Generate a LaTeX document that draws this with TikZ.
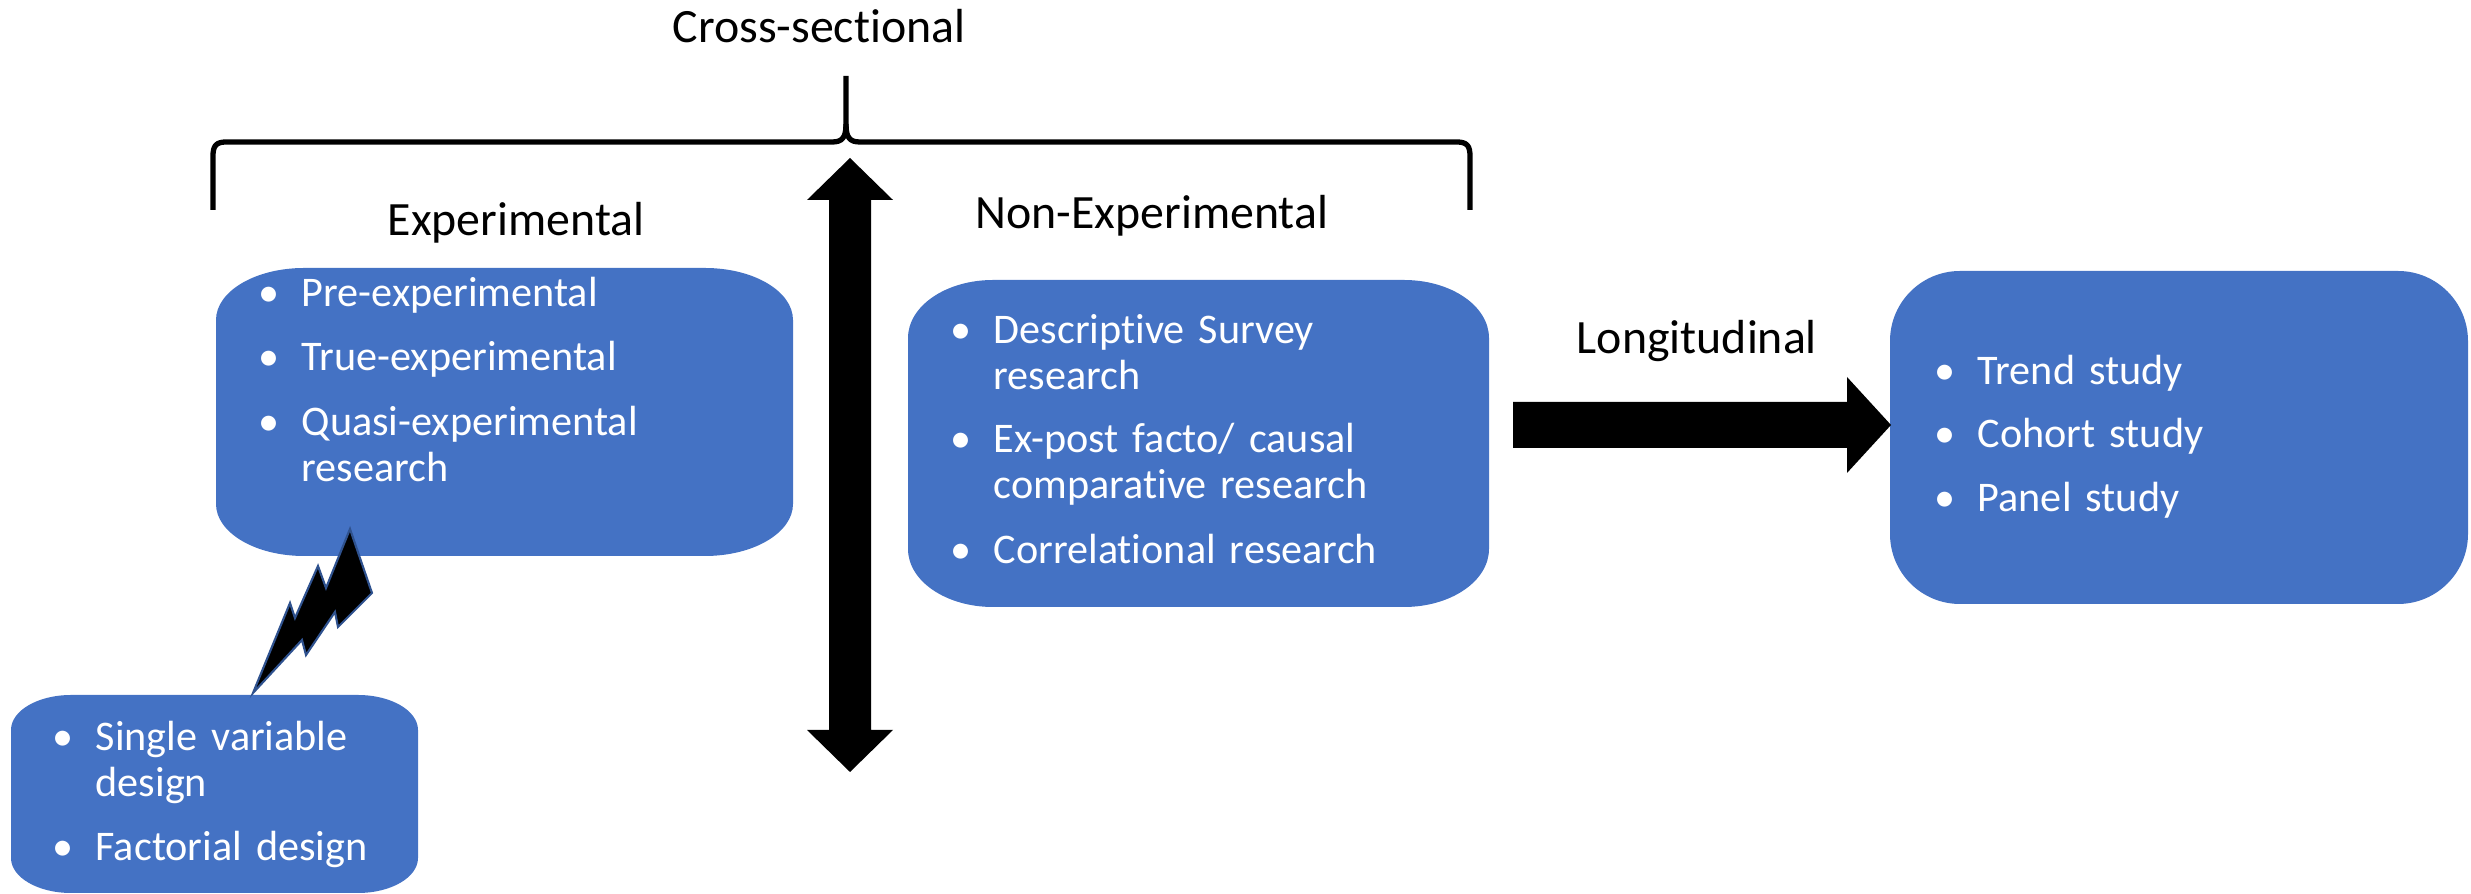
\documentclass[tikz,border=0pt]{standalone}
\usepackage{fontspec}
\setmainfont{Carlito}[Ligatures=NoCommon]
\definecolor{boxblue}{HTML}{4472C4}
\definecolor{boltedge}{HTML}{2F528F}
\tikzset{
  listtext/.style={anchor=base west, text=white, text width=6cm, align=left,
    inner sep=0pt, font=\fontsize{12}{12.8}\selectfont},
  heading/.style={anchor=base, inner sep=0pt, font=\fontsize{13.6}{16}\selectfont},
  blockarrow/.style={fill=black},
  bracepath/.style={draw=black, line width=1.5pt, line join=round},
  bolt/.style={fill=black, draw=boltedge, line width=0.6pt, line join=miter},
}
% bullet hanging to the left of the item text
\newcommand\bul{\llap{\makebox[0.66cm]{\textbullet}}}
% filled box with elliptical corners: x1,y1 (lower left), x2,y2 (upper right), rx, ry
\newcommand\softbox[6]{%
  \fill[boxblue] (#1+#5,#2) -- (#3-#5,#2)
    .. controls (#3-0.4477*#5,#2) and (#3,#2+0.4477*#6) .. (#3,#2+#6)
    -- (#3,#4-#6)
    .. controls (#3,#4-0.4477*#6) and (#3-0.4477*#5,#4) .. (#3-#5,#4)
    -- (#1+#5,#4)
    .. controls (#1+0.4477*#5,#4) and (#1,#4-0.4477*#6) .. (#1,#4-#6)
    -- (#1,#2+#6)
    .. controls (#1,#2+0.4477*#6) and (#1+0.4477*#5,#2) .. (#1+#5,#2) -- cycle;}
\begin{document}
\begin{tikzpicture}[x=0.01cm, y=0.01cm]
\useasboundingbox (0,0) rectangle (2471,894);

% boxes
\softbox{216}{338}{793}{626}{88}{52}
\softbox{908}{287}{1489}{614}{85}{58}
\softbox{1890}{290}{2468}{623}{70}{70}
\softbox{11}{1}{418}{199}{60}{35}

% lightning bolt linking the experimental box to its designs
\draw[bolt] (253,201) -- (290,291) -- (295,276) -- (318,328) -- (326,306)
  -- (350,365) -- (372,301) -- (338,267) -- (335,282) -- (306,239)
  -- (302,254) -- cycle;

% brace over both groups
\draw[bracepath] (213,684) -- (213,738) .. controls (213,748) and (216,752) .. (226,752)
  -- (832,752) .. controls (842,752) and (846,756) .. (846,770) -- (846,818);
\draw[bracepath] (846,770) .. controls (846,756) and (850,752) .. (860,752)
  -- (1457,752) .. controls (1467,752) and (1470,748) .. (1470,738) -- (1470,684);

% vertical double arrow
\fill[blockarrow] (850,736) -- (893,694) -- (871,694) -- (871,164) -- (893,164)
  -- (850,122) -- (807,164) -- (829,164) -- (829,694) -- (807,694) -- cycle;

% longitudinal arrow
\fill[blockarrow] (1513,446) -- (1847,446) -- (1847,421) -- (1891,469)
  -- (1847,517) -- (1847,492) -- (1513,492) -- cycle;

% headings
\node[heading] (cross) at (819,851) {Cross-sectional};
\node[heading] (expt) at (516,658) {Experimental};
\node[heading] (nonexpt) at (1152,665) {Non-Experimental};
\node[heading] (longt) at (1697,540) {Longitudinal};

% experimental designs
\node[listtext] (e1) at (301,587) {\bul Pre-experimental};
\node[listtext] (e2) at (301,523) {\bul True-experimental};
\node[listtext] (e3) at (301,458) {\bul Quasi-experimental\\research};

% non-experimental designs
\node[listtext] (n1) at (993,550) {\bul Descriptive Survey\\research};
\node[listtext] (n2) at (993,441) {\bul Ex-post facto/ causal\\comparative research};
\node[listtext] (n3) at (993,330) {\bul Correlational research};

% longitudinal studies
\node[listtext] (l1) at (1977,509) {\bul Trend study};
\node[listtext] (l2) at (1977,446) {\bul Cohort study};
\node[listtext] (l3) at (1977,382) {\bul Panel study};

% factor designs
\node[listtext] (f1) at (95,143) {\bul Single variable\\design};
\node[listtext] (f2) at (95,33) {\bul Factorial design};
\end{tikzpicture}
\end{document}
